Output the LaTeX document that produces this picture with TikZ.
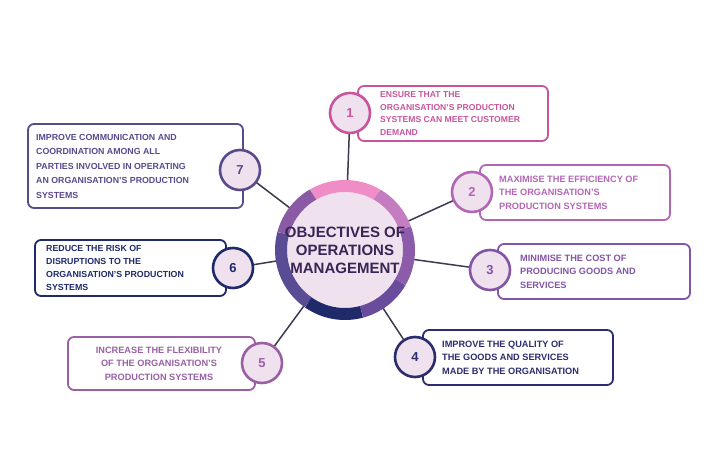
\documentclass[tikz,border=0pt]{standalone}
\usepackage{fontspec}
\setmainfont{Liberation Sans}
\usetikzlibrary{positioning}
\definecolor{cPink}{HTML}{C8559C}
\definecolor{cMauve}{HTML}{B466B6}
\definecolor{cPurple}{HTML}{8355A6}
\definecolor{cNavy}{HTML}{2B2D6E}
\definecolor{cViolet}{HTML}{9A5FA5}
\definecolor{cDeep}{HTML}{1E2A6A}
\definecolor{cPlum}{HTML}{5A4A8E}
\definecolor{cFill}{HTML}{EFE1EE}
\definecolor{cLine}{HTML}{3C3A50}
\definecolor{cHub}{HTML}{3A2456}
\tikzset{
  num/.style={circle, draw=#1, line width=2.6pt, fill=cFill, minimum size=40pt,
    inner sep=0pt, text=#1, font=\bfseries\fontsize{13}{13}\selectfont},
  box/.style={draw=#1, line width=1.8pt, rounded corners=6pt, fill=white},
  txt/.style={text=#1, font=\bfseries\fontsize{9.2}{13.5}\selectfont, align=left,
    inner sep=0pt}
}
\begin{document}
\begin{tikzpicture}[x=1pt,y=1pt]
  \useasboundingbox[fill=white] (0,0) rectangle (720,462);
  % connectors
  \coordinate (c) at (345,212);
  \coordinate (p1) at (350,349);
  \coordinate (p2) at (472,270);
  \coordinate (p3) at (490,192);
  \coordinate (p4) at (415,105);
  \coordinate (p5) at (262,99);
  \coordinate (p6) at (233,194);
  \coordinate (p7) at (240,292);
  \foreach \n in {p1,p2,p3,p4,p5,p6,p7}
    \draw[cLine, line width=1.5pt] (c) -- (\n);
  % boxes
  \draw[box=cPink] (358,321) rectangle (548,376);
  \draw[box=cMauve] (480,242) rectangle (670,297);
  \draw[box=cPurple] (498,163) rectangle (690,218);
  \draw[box=cNavy] (423,77) rectangle (613,132);
  \draw[box=cViolet] (68,72) rectangle (255,125);
  \draw[box=cDeep] (35,166) rectangle (226,222);
  \draw[box=cPlum] (28,254) rectangle (243,338);
  \node[num=cPink] (n1) at (p1) {1};
  \node[num=cMauve] (n2) at (p2) {2};
  \node[num=cPurple] (n3) at (p3) {3};
  \node[num=cNavy] (n4) at (p4) {4};
  \node[num=cViolet] (n5) at (p5) {5};
  \node[num=cDeep] (n6) at (p6) {6};
  \node[num=cPlum] (n7) at (p7) {7};
  % texts
  \node[txt=cPink, anchor=west, font=\bfseries\fontsize{8.6}{12.5}\selectfont] (t1) at (380,348.5) {ENSURE THAT THE\\ORGANISATION'S PRODUCTION\\SYSTEMS CAN MEET CUSTOMER\\DEMAND};
  \node[txt=cMauve, anchor=west] (t2) at (499,269.5) {MAXIMISE THE EFFICIENCY OF\\THE ORGANISATION'S\\PRODUCTION SYSTEMS};
  \node[txt=cPurple, anchor=west] (t3) at (520,190.5) {MINIMISE THE COST OF\\PRODUCING GOODS AND\\SERVICES};
  \node[txt=cNavy, anchor=west] (t4) at (442,104.5) {IMPROVE THE QUALITY OF\\THE GOODS AND SERVICES\\MADE BY THE ORGANISATION};
  \node[txt=cViolet, align=center] (t5) at (159,98.5) {INCREASE THE FLEXIBILITY\\OF THE ORGANISATION'S\\PRODUCTION SYSTEMS};
  \node[txt=cDeep, anchor=west, font=\bfseries\fontsize{8.8}{13}\selectfont] (t6) at (46,194) {REDUCE THE RISK OF\\DISRUPTIONS TO THE\\ORGANISATION'S PRODUCTION\\SYSTEMS};
  \node[txt=cPlum, anchor=west, font=\bfseries\fontsize{8.8}{14.5}\selectfont] (t7) at (36,296) {IMPROVE COMMUNICATION AND\\COORDINATION AMONG ALL\\PARTIES INVOLVED IN OPERATING\\AN ORGANISATION'S PRODUCTION\\SYSTEMS};
  % hub
  \fill[cFill] (c) circle (58);
  \foreach \a/\b/\col in {60/120/F08CC6, 120/165/8B5AA5, 165/235/5A4C94,
      235/285/1F2A6B, 285/330/6A4C9C, 330/380/8C5BAA, 20/60/C47DC0} {
    \definecolor{seg}{HTML}{\col}
    \draw[seg, line width=12pt] ([shift={(\a:64)}]c) arc[start angle=\a, end angle=\b, radius=64];
  }
  \node[text=cHub, font=\bfseries\fontsize{15}{18}\selectfont, align=center] (hub) at (c) {OBJECTIVES OF\\OPERATIONS\\MANAGEMENT};
\end{tikzpicture}
\end{document}
